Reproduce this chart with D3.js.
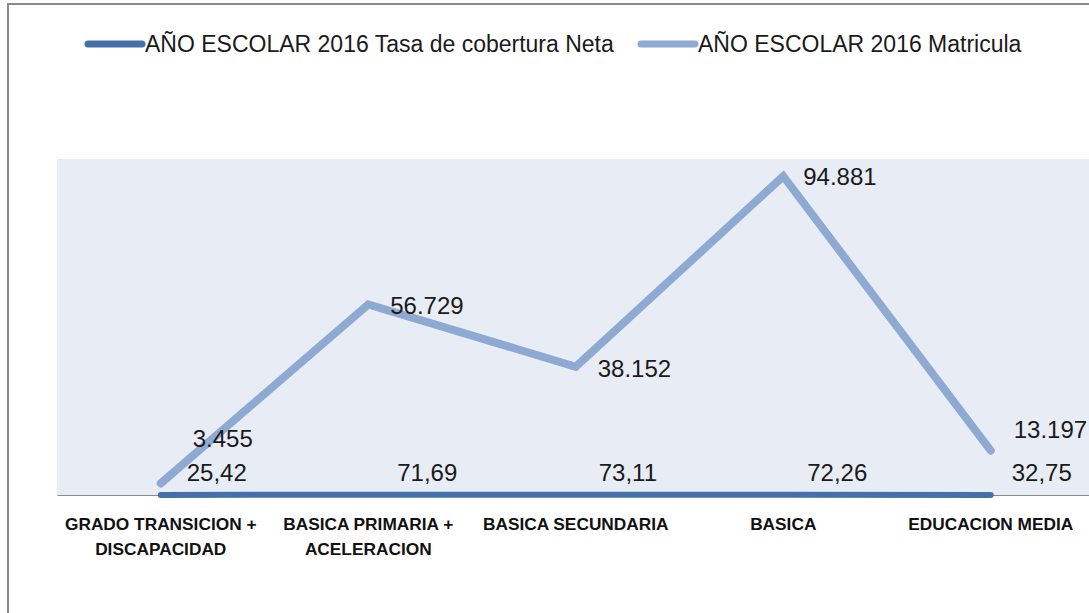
<!DOCTYPE html>
<html>
<head>
<meta charset="utf-8">
<script src="https://cdn.jsdelivr.net/npm/d3@7"></script>
<style>
	body { margin: 0; background: #fff; }
	svg { display: block; font-family: "Liberation Sans", Arial, sans-serif; }
</style>
</head>
<body>
<div id="chart"></div>
<script>
// data
const categories = [
	["GRADO TRANSICION +", "DISCAPACIDAD"],
	["BASICA PRIMARIA +", "ACELERACION"],
	["BASICA SECUNDARIA"],
	["BASICA"],
	["EDUCACION MEDIA"]
]
const tasaNeta = [25.42, 71.69, 73.11, 72.26, 32.75]
const matricula = [3455, 56729, 38152, 94881, 13197]
const seriesNames = ["AÑO ESCOLAR 2016 Tasa de cobertura Neta", "AÑO ESCOLAR 2016 Matricula"]

// label nudges (layout only), as placed in the original
const matLabelDx = [32, 22, 22, 20, 23]
const matLabelDy = [-45, 1, 2, 0, -21]
const netaLabelDx = [26, 29, 23, 24, 21]

const width = 1089, height = 613
const plot = { left: 57, top: 159, bottom: 495 }
const bandW = 207.5

const colors = { neta: "#4570a9", mat: "#8eaad2" }

const locale = d3.formatLocale({ decimal: ",", thousands: ".", grouping: [3], currency: ["", ""] })
const fmtMat = locale.format(",d")
const fmtNeta = locale.format(".2f")

const svg = d3.select("#chart").append("svg")
	.attr("width", width)
	.attr("height", height)

// outer frame
svg.append("rect")
	.attr("x", 8).attr("y", 4)
	.attr("width", width + 20).attr("height", height + 20)
	.attr("fill", "#fff")
	.attr("stroke", "#8a8a8a")
	.attr("stroke-width", 2)

const x = d3.scaleBand()
	.domain(d3.range(categories.length))
	.range([plot.left, plot.left + bandW * categories.length])

const y = d3.scaleLinear()
	.domain([0, 100000])
	.range([plot.bottom, plot.top])

const cx = i => x(i) + x.bandwidth() / 2

// plot background
svg.append("rect")
	.attr("x", plot.left)
	.attr("y", plot.top)
	.attr("width", x.range()[1] - plot.left)
	.attr("height", plot.bottom - plot.top)
	.attr("fill", "#e8ecf4")

// category axis
const xAxis = svg.append("g")
	.attr("transform", `translate(0, ${plot.bottom})`)
	.call(d3.axisBottom(x).tickSize(0).tickFormat(""))
xAxis.select(".domain").attr("stroke", "#8c8c8c").attr("stroke-width", 1.2)

const catLabels = svg.append("g")
	.attr("font-size", 17.3)
	.attr("font-weight", "bold")
	.attr("fill", "#111")
	.attr("text-anchor", "middle")
	.selectAll("text")
	.data(categories)
	.join("text")
	.attr("x", (d, i) => cx(i))
	.attr("y", 530)
catLabels.selectAll("tspan")
	.data(d => d)
	.join("tspan")
	.attr("x", function () { return this.parentNode.getAttribute("x") })
	.attr("dy", (d, i) => i ? 25 : 0)
	.text(d => d)

// lines
const line = d3.line()
	.x((d, i) => cx(i))
	.y(d => y(d))

svg.append("path")
	.datum(tasaNeta)
	.attr("d", line)
	.attr("fill", "none")
	.attr("stroke", colors.neta)
	.attr("stroke-width", 6)
	.attr("stroke-linecap", "round")
	.attr("stroke-linejoin", "round")

svg.append("path")
	.datum(matricula)
	.attr("d", line)
	.attr("fill", "none")
	.attr("stroke", colors.mat)
	.attr("stroke-width", 8)
	.attr("stroke-linecap", "round")
	.attr("stroke-linejoin", "miter")

// data labels
const labels = svg.append("g")
	.attr("font-size", 24)
	.attr("fill", "#1a1a1a")

labels.selectAll("text.neta")
	.data(tasaNeta)
	.join("text")
	.attr("class", "neta")
	.attr("x", (d, i) => cx(i) + netaLabelDx[i])
	.attr("y", d => y(d) - 14)
	.text(d => fmtNeta(d))

labels.selectAll("text.mat")
	.data(matricula)
	.join("text")
	.attr("class", "mat")
	.attr("x", (d, i) => cx(i) + matLabelDx[i])
	.attr("y", (d, i) => y(d) + matLabelDy[i])
	.attr("dy", "0.35em")
	.text(d => fmtMat(d))

// legend
const legendItems = [
	{ name: seriesNames[0], color: colors.neta, x: 85 },
	{ name: seriesNames[1], color: colors.mat, x: 638 }
]
const legend = svg.append("g")
	.selectAll("g")
	.data(legendItems)
	.join("g")
	.attr("transform", d => `translate(${d.x}, 44)`)

legend.append("line")
	.attr("x1", 3).attr("x2", 57)
	.attr("stroke", d => d.color)
	.attr("stroke-width", 7)
	.attr("stroke-linecap", "round")

legend.append("text")
	.attr("x", 60)
	.attr("dy", "0.35em")
	.attr("font-size", 23)
	.attr("fill", "#1a1a1a")
	.text(d => d.name)
</script>
</body>
</html>
